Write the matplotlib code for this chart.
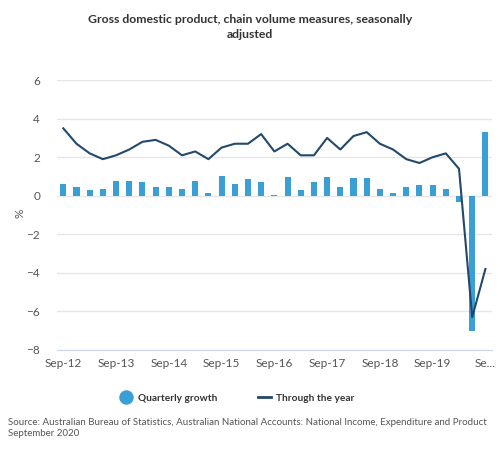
import matplotlib.pyplot as plt
from matplotlib.lines import Line2D
import numpy as np

plt.rcParams["font.family"] = ["Lato", "DejaVu Sans"]

# quarterly periods Sep-12 .. Sep-20
tick_labels = ["Sep-12", "Sep-13", "Sep-14", "Sep-15", "Sep-16",
               "Sep-17", "Sep-18", "Sep-19", "Se..."]

quarterly = [0.6, 0.45, 0.3, 0.35, 0.75, 0.75, 0.7, 0.45, 0.45, 0.35, 0.75,
             0.15, 1.05, 0.6, 0.85, 0.7, 0.05, 0.95, 0.3, 0.7, 0.95, 0.45,
             0.9, 0.9, 0.35, 0.15, 0.45, 0.55, 0.55, 0.35, -0.3, -7.0, 3.3]
through_year = [3.5, 2.7, 2.2, 1.9, 2.1, 2.4, 2.8, 2.9, 2.6, 2.1, 2.3,
                1.9, 2.5, 2.7, 2.7, 3.2, 2.3, 2.7, 2.1, 2.1, 3.0, 2.4,
                3.1, 3.3, 2.7, 2.4, 1.9, 1.7, 2.0, 2.2, 1.4, -6.3, -3.8]

x = np.arange(len(quarterly))

fig = plt.figure(figsize=(5.0, 4.58), dpi=100)
ax = fig.add_axes([0.1134, 0.236, 0.8706, 0.589])

ax.bar(x, quarterly, width=0.46, color="#3a9fd5", zorder=2,
       label="Quarterly growth")
ax.plot(x, through_year, color="#22496b", linewidth=1.5, zorder=3,
        label="Through the year")

ax.set_xlim(-0.5, len(x) - 0.5)
ax.set_ylim(-8, 6)
ax.set_yticks(range(-8, 7, 2))
ax.set_xticks(x[::4])
ax.set_xticklabels(tick_labels)
ax.grid(axis="y", color="#e6e6e6", linewidth=1, zorder=0)
ax.tick_params(length=0, labelsize=8.5, colors="#555555", pad=6)
ax.tick_params(axis="y", pad=12)
for side in ["top", "right", "left"]:
    ax.spines[side].set_visible(False)
ax.spines["bottom"].set_color("#ccd6eb")

fig.text(0.04, 0.535, "%", rotation=90, ha="center", va="center",
         fontsize=8.5, color="#555555")

fig.text(0.5, 0.941, "Gross domestic product, chain volume measures, seasonally\nadjusted",
         ha="center", va="center", fontsize=8.8, fontweight="bold",
         color="#333333", linespacing=1.5)

handles = [
    Line2D([], [], marker="o", linestyle="none", markersize=9.4,
           markerfacecolor="#3a9fd5", markeredgecolor="#3a9fd5"),
    Line2D([], [], color="#22496b", linewidth=2),
]
fig.legend(handles, ["Quarterly growth", "Through the year"],
           loc="center", bbox_to_anchor=(0.474, 0.131), ncol=2, frameon=False,
           prop={"size": 7.3, "weight": "bold"}, handlelength=1.3,
           columnspacing=4.0, handletextpad=0.5, labelcolor="#333333")

fig.text(0.016, 0.065,
         "Source: Australian Bureau of Statistics, Australian National Accounts: National Income, Expenditure and Product\nSeptember 2020",
         ha="left", va="center", fontsize=7.0, color="#555555",
         linespacing=1.3)

fig.savefig("out.png", dpi=100)
